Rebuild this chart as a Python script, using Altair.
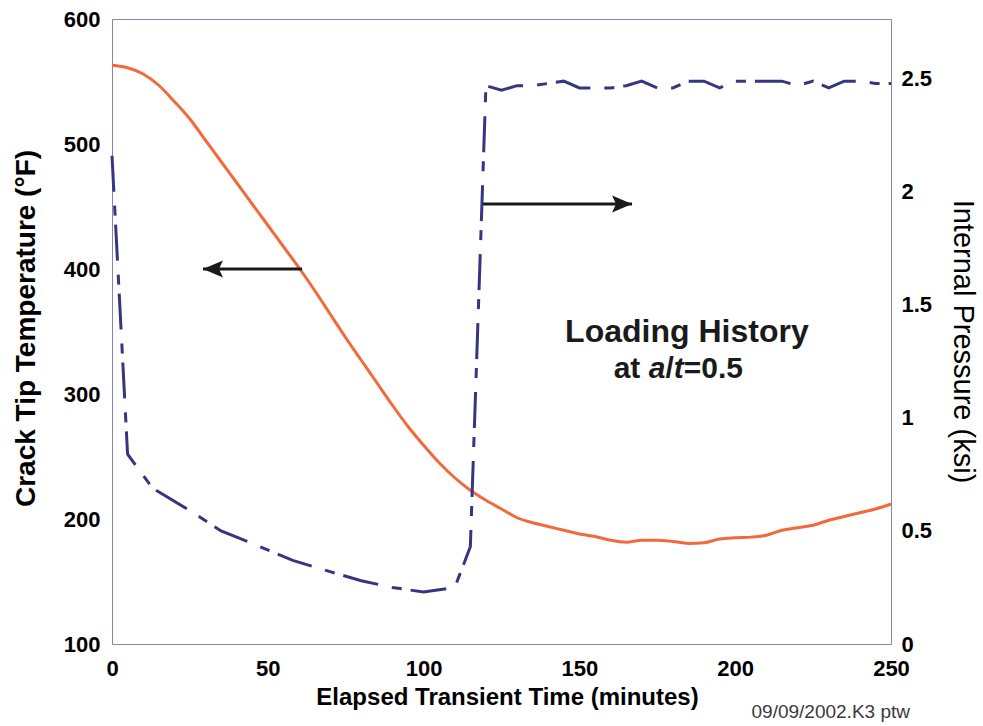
import altair as alt
import pandas as pd

# ---------------- data ----------------
time_temp = [0, 5, 10, 15, 20, 25, 30, 35, 40, 45, 50, 55, 60, 65, 70, 75, 80, 85, 90, 95,
             100, 105, 110, 115, 120, 125, 130, 135, 140, 145, 150, 155, 160, 165, 170, 175,
             180, 185, 190, 195, 200, 205, 210, 215, 220, 225, 230, 235, 240, 245, 250]
temp_f = [563, 561, 556, 547, 534, 520, 503, 486, 469, 452, 435, 418, 401, 383, 364, 345, 327, 309, 291, 274,
          259, 245, 233, 223, 215, 208, 201, 197, 194, 191, 188, 186, 183, 181.5, 183, 183,
          182, 180.5, 181, 184, 185, 185.5, 187, 191, 193, 195, 199, 202, 205, 208, 212]

time_pres = [0, 5, 13, 25, 35, 45, 58, 70, 80, 90, 100, 110, 115, 120, 125, 130, 135, 140, 145,
             150, 155, 160, 165, 170, 175, 180, 185, 190, 195, 200, 205, 210, 215, 220, 225,
             230, 235, 240, 245, 250]
pres_ksi = [2.16, 0.84, 0.69, 0.59, 0.50, 0.445, 0.37, 0.32, 0.28, 0.25, 0.23, 0.25, 0.43, 2.47, 2.45, 2.47,
            2.47, 2.48, 2.49, 2.46, 2.46, 2.46, 2.47, 2.49, 2.46, 2.46, 2.49, 2.49, 2.46, 2.49,
            2.49, 2.49, 2.49, 2.47, 2.49, 2.46, 2.49, 2.49, 2.48, 2.48]

x_ticks = [0, 50, 100, 150, 200, 250]
temp_ticks = [100, 200, 300, 400, 500, 600]
pres_ticks = [0, 0.5, 1, 1.5, 2, 2.5]

# arrows: start time, end time (tip), temperature level, direction
arrow_start = [61.0, 119.0]
arrow_tip = [29.2, 166.9]
arrow_level = [400, 452]
arrow_dir = ["left", "right"]

FONT = "Liberation Sans, Arial, sans-serif"
ORANGE = "#f26a3c"
NAVY = "#363680"
INK = "#1a1a1a"

temp_df = pd.DataFrame({"t": time_temp, "T": temp_f})
pres_df = pd.DataFrame({"t": time_pres, "P": pres_ksi})
arrow_df = pd.DataFrame({"t": arrow_start, "t2": arrow_tip, "T": arrow_level, "dir": arrow_dir})
title_df = pd.DataFrame({"t": [184.5], "T": [341.6], "label": ["Loading History"]})
sub_df = pd.DataFrame({"t": [161.0], "T": [312.8]})

x_enc = alt.X(
    "t:Q",
    scale=alt.Scale(domain=[0, 250], nice=False, zero=False),
    axis=alt.Axis(values=x_ticks, title="Elapsed Transient Time (minutes)", labelFlush=False,
                  labelPadding=14, titleX=395, titleY=53, titleAlign="center",
                  titleBaseline="middle", titleFontSize=24),
)

temp_line = alt.Chart(temp_df).mark_line(color=ORANGE, strokeWidth=3, interpolate="monotone").encode(
    x=x_enc,
    y=alt.Y("T:Q", scale=alt.Scale(domain=[100, 600], nice=False, zero=False),
            axis=alt.Axis(values=temp_ticks, orient="left", title="Crack Tip Temperature  (°F)",
                          labelFlush=False, labelPadding=12, titleX=-86, titleY=309,
                          titleAngle=270, titleAlign="center", titleBaseline="middle",
                          titleFontSize=28)),
)

arrow_rules = alt.Chart(arrow_df).mark_rule(color=INK, strokeWidth=3).encode(
    x="t:Q", x2="t2:Q", y="T:Q"
)

LEFT_HEAD = "M0,0L1,-0.42L0.8,0L1,0.42Z"
RIGHT_HEAD = "M0,0L-1,-0.42L-0.8,0L-1,0.42Z"
arrow_heads = alt.Chart(arrow_df).mark_point(filled=True, opacity=1, size=1600, color=INK).encode(
    x="t2:Q", y="T:Q",
    shape=alt.Shape("dir:N", scale=alt.Scale(domain=["left", "right"], range=[LEFT_HEAD, RIGHT_HEAD]),
                    legend=None),
)

loading = alt.Chart(title_df).mark_text(font=FONT, fontSize=32, fontWeight="bold", align="center",
                                        baseline="alphabetic", color=INK).encode(
    x="t:Q", y="T:Q", text="label:N")

def seg(txt, dx, italic=False):
    kw = dict(font=FONT, fontSize=30, fontWeight="bold", align="left", baseline="alphabetic",
              color=INK, text=txt, dx=dx)
    if italic:
        kw["fontStyle"] = "italic"
    return alt.Chart(sub_df).mark_text(**kw).encode(x="t:Q", y="T:Q")

sub_layers = [seg("at", 0), seg("a", 35, True), seg("/", 51.7), seg("t", 60, True), seg("=0.5", 70)]

left = alt.layer(temp_line, arrow_rules, arrow_heads, loading, *sub_layers)

pres_line = alt.Chart(pres_df).mark_line(color=NAVY, strokeWidth=3, strokeDash=[36, 14, 10, 9]).encode(
    x=x_enc,
    y=alt.Y("P:Q", scale=alt.Scale(domain=[0, 2.765], nice=False, zero=False),
            axis=alt.Axis(values=pres_ticks, orient="right", format="~g", title="Internal Pressure (ksi)",
                          labelFlush=False, labelPadding=10, titleX=71, titleY=322, titleAngle=90,
                          titleAlign="center", titleBaseline="middle", titleFontSize=29,
                          titleFontWeight="normal")),
)

chart = alt.layer(left, pres_line).resolve_scale(y="independent").properties(
    width=779, height=625,
    background="white",
    autosize=alt.AutoSizeParams(type="none"),
    padding={"left": 112, "top": 19, "right": 92, "bottom": 82},
    title=alt.TitleParams(text="09/09/2002.K3 ptw", orient="bottom", anchor="end", frame="group",
                          offset=9, baseline="alphabetic", dx=19, font=FONT, fontSize=19,
                          fontWeight="normal", color="#3a3a3a"),
).configure_view(stroke="#8585b5", strokeWidth=1).configure_axis(
    labelFont=FONT, labelFontSize=22, labelFontWeight="bold", labelColor="black",
    titleFont=FONT, titleFontWeight="bold", titleColor="black",
    ticks=False, domain=False, grid=False,
)

chart.save("out.html", embed_options={"renderer": "svg", "actions": False})
